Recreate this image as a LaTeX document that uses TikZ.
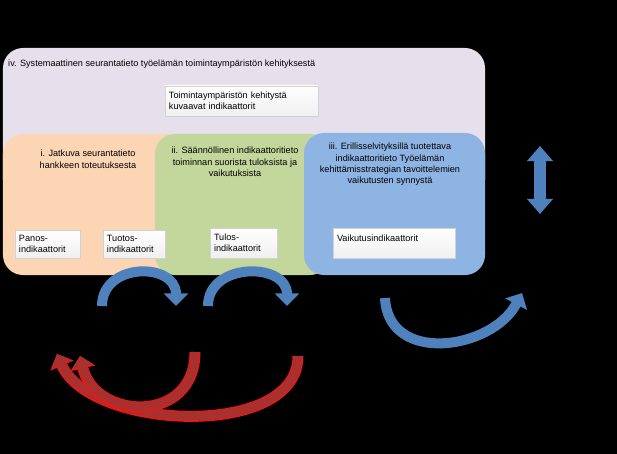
\documentclass[tikz,border=0pt]{standalone}
\usepackage{fontspec}
\setmainfont{Liberation Sans}
\usetikzlibrary{arrows.meta,positioning}
\definecolor{lavender}{HTML}{E6E0EC}
\definecolor{peach}{HTML}{FCD5B5}
\definecolor{sage}{HTML}{C3D69B}
\definecolor{skyblue}{HTML}{8EB4E3}
\definecolor{arrowblue}{HTML}{4F81BD}
\definecolor{arrowred}{HTML}{A8302E}
\definecolor{rededge}{HTML}{E21A1A}
\newcommand{\smalltxt}{\fontsize{7.8}{9.7}\selectfont}

\begin{document}
\begin{tikzpicture}[x=0.03cm,y=-0.03cm,
  panel/.style={rounded corners=0.6cm,inner sep=0pt},
  heading/.style={align=center,inner sep=0pt,anchor=north,font=\smalltxt},
  indbox/.style={top color=white,bottom color=gray!12,draw=gray!35,line width=0.2pt,
    align=left,inner xsep=0.12cm,inner ysep=0pt,font=\smalltxt},
  bluearrow/.style={draw=arrowblue,line width=0.3cm,-{Triangle[width=0.72cm,length=0.38cm]}},
  redarrow/.style={draw=arrowred,line width=0.24cm,-{Triangle[width=0.62cm,length=0.32cm]},
    preaction={draw=rededge,line width=0.33cm,-{Triangle[width=0.74cm,length=0.38cm]}}}]
\fill[black] (0,0) rectangle (617,454);

% taustalaatikot
\node[panel,fill=lavender,minimum width=14.46cm,minimum height=4.56cm] (envpanel) at (244,124) {};
\node[panel,fill=peach,minimum width=5.46cm,minimum height=4.23cm] (monpanel) at (94,204.5) {};
\node[panel,fill=sage,minimum width=5.25cm,minimum height=4.23cm] (regpanel) at (242.5,204.5) {};
\node[panel,fill=skyblue,minimum width=5.43cm,minimum height=4.26cm] (seppanel) at (394.5,204) {};

% otsikot
\node[font=\smalltxt,inner sep=0pt,anchor=west] (envtitle) at (8,64)
  {iv. Systemaattinen seurantatieto työelämän toimintaympäristön kehityksestä};
\node[heading] (montitle) at (88,150) {i. Jatkuva seurantatieto\\hankkeen toteutuksesta};
\node[heading] (regtitle) at (235,147) {ii. Säännöllinen indikaattoritieto\\toiminnan suorista tuloksista ja\\vaikutuksista};
\node[heading] (septitle) at (390,143) {iii. Erillisselvityksillä tuotettava\\indikaattoritieto Työelämän\\kehittämisstrategian tavoittelemien\\vaikutusten synnystä};

% indikaattorit
\node[indbox,text width=4.35cm,minimum height=0.9cm] (envind) at (241.5,101) {Toimintaympäristön kehitystä\\kuvaavat indikaattorit};
\node[indbox,text width=1.71cm,minimum height=0.84cm] (inputind) at (47.5,244) {Panos-\\indikaattorit};
\node[indbox,text width=1.62cm,minimum height=0.84cm] (outputind) at (134,244) {Tuotos-\\indikaattorit};
\node[indbox,text width=1.77cm,minimum height=0.9cm] (resultind) at (243.5,243) {Tulos-\\indikaattorit};
\node[indbox,text width=3.42cm,minimum height=0.9cm,text depth=0.3cm] (impactind) at (394,243) {Vaikutusindikaattorit};

% nuolet
\coordinate (b1s) at (102,306); \coordinate (b1e) at (176,306);
\coordinate (b2s) at (208,306); \coordinate (b2e) at (287,306);
\coordinate (b3s) at (385,298); \coordinate (b3e) at (522,293);
\draw[bluearrow] (b1s) .. controls (102,262) and (176,262) .. (b1e);
\draw[bluearrow] (b2s) .. controls (208,262) and (287,262) .. (b2e);
\draw[bluearrow] (b3s) .. controls (388,365) and (492,350) .. (b3e);

\coordinate (r1s) at (195,352); \coordinate (r1e) at (80,356);
\coordinate (r2s) at (298,356); \coordinate (r2e) at (57,354);
\draw[redarrow] (r2s) .. controls (298,440) and (90,430) .. (r2e);
\draw[redarrow] (r1s) .. controls (195,425) and (95,420) .. (r1e);

\coordinate (dtop) at (540,146); \coordinate (dbot) at (540,214);
\draw[arrowblue,line width=0.36cm,{Triangle[width=0.75cm,length=0.45cm]}-{Triangle[width=0.75cm,length=0.45cm]}] (dtop) -- (dbot);
\end{tikzpicture}
\end{document}
